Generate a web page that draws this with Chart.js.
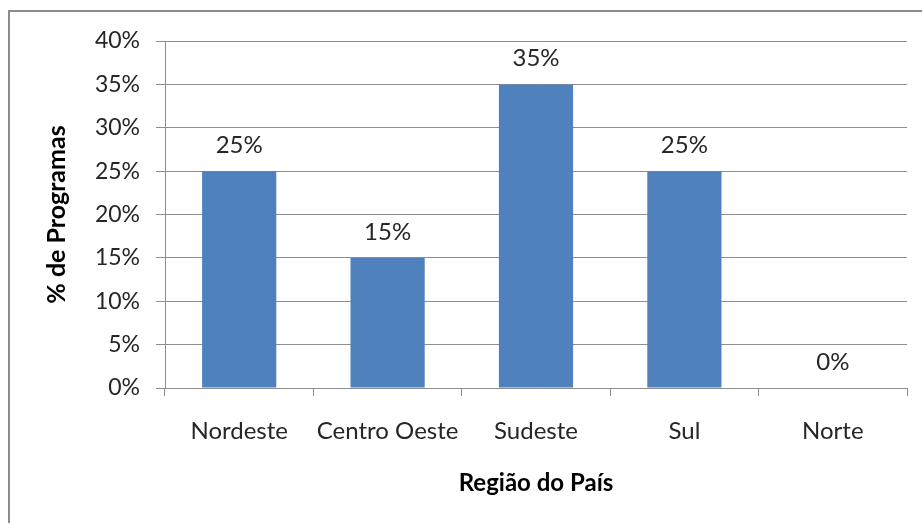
<!DOCTYPE html>
<html>
<head>
<meta charset="utf-8">
<script src="https://cdn.jsdelivr.net/npm/chart.js@4"></script>
<style>
  html, body { margin: 0; padding: 0; background: #fff; }
  #wrap { position: relative; width: 922px; height: 523px; }
  #frame { position: absolute; left: 8px; top: 10px; right: -2px; bottom: -2px; border-left: 2px solid #8c8c8c; border-top: 2px solid #8c8c8c; }
  canvas { position: absolute; left: 0; top: 0; }
</style>
</head>
<body>
<div id="wrap">
  <div id="frame"></div>
  <canvas id="c" width="922" height="523"></canvas>
</div>
<script>
const categories = ['Nordeste', 'Centro Oeste', 'Sudeste', 'Sul', 'Norte'];
const values = [25, 15, 35, 25, 0];
const yTickValues = [0, 5, 10, 15, 20, 25, 30, 35, 40];
const yTitle = '% de Programas';
const xTitle = 'Região do País';

const FONT = 'Lato, Calibri, Carlito, sans-serif';
const GRID = '#8e8e8e';

const dataLabels = {
  id: 'dataLabels',
  afterDatasetsDraw(chart) {
    const ctx = chart.ctx;
    const meta = chart.getDatasetMeta(0);
    ctx.save();
    ctx.font = '24px ' + FONT;
    ctx.fillStyle = '#262626';
    ctx.textAlign = 'center';
    ctx.textBaseline = 'alphabetic';
    meta.data.forEach((bar, i) => {
      ctx.fillText(values[i] + '%', bar.x, bar.y - 18);
    });
    ctx.restore();
  }
};

new Chart(document.getElementById('c'), {
  type: 'bar',
  data: {
    labels: categories,
    datasets: [{
      data: values,
      backgroundColor: '#4f81bd',
      borderWidth: 0,
      barPercentage: 1,
      categoryPercentage: 0.5
    }]
  },
  options: {
    responsive: false,
    animation: false,
    devicePixelRatio: 1,
    layout: { padding: { left: 0, top: 41, right: 15, bottom: 0 } },
    plugins: { legend: { display: false }, tooltip: { enabled: false } },
    scales: {
      x: {
        afterFit(scale) { scale.height = 135; },
        grid: { display: true, drawOnChartArea: false, drawTicks: true, tickLength: 8, color: GRID, offset: true },
        border: { display: true, color: GRID, width: 1 },
        ticks: { color: '#262626', font: { family: FONT, size: 24 }, padding: 21, maxRotation: 0, autoSkip: false },
        title: { display: true, text: xTitle, color: '#000', font: { family: FONT, size: 24, weight: 'bold' }, padding: { top: 0, bottom: 25 } }
      },
      y: {
        min: 0, max: 40,
        afterFit(scale) { scale.width = 165; },
        afterBuildTicks(scale) { scale.ticks = yTickValues.map(v => ({ value: v })); },
        grid: { color: GRID, lineWidth: 1, tickLength: 9, drawTicks: true },
        border: { display: true, color: GRID, width: 1 },
        ticks: { color: '#262626', font: { family: FONT, size: 23 }, padding: 16, callback: v => v + '%' },
        title: { display: true, text: yTitle, color: '#000', font: { family: FONT, size: 25, weight: 'bold' }, padding: { top: 42, bottom: 0 } }
      }
    }
  },
  plugins: [dataLabels]
});
</script>
</body>
</html>
